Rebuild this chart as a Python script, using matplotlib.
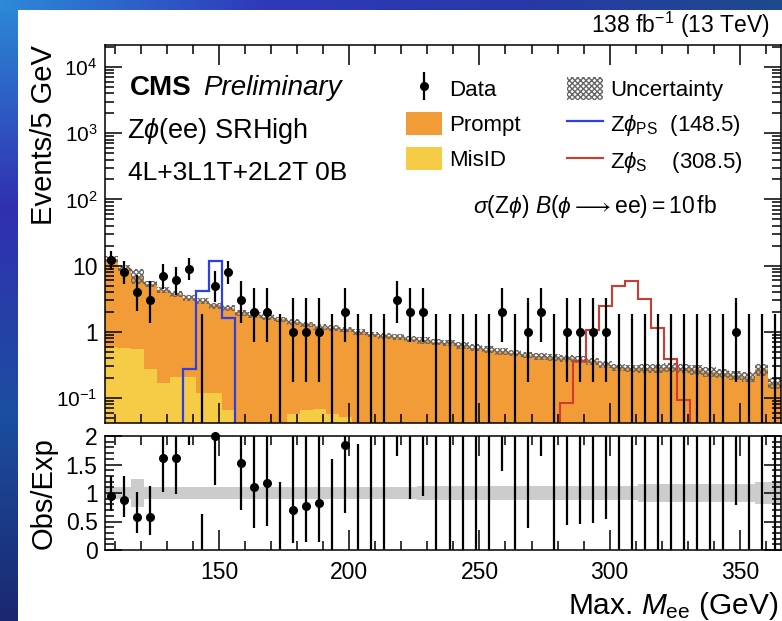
import numpy as np
import matplotlib
matplotlib.use("Agg")
import matplotlib.pyplot as plt
from matplotlib.colors import LinearSegmentedColormap
from matplotlib.legend_handler import HandlerErrorbar
from matplotlib.lines import Line2D
from matplotlib.patches import Patch
from matplotlib.ticker import LogLocator, MultipleLocator, NullFormatter, FuncFormatter

plt.rcParams["font.family"] = ["Liberation Sans", "DejaVu Sans"]
plt.rcParams["mathtext.fontset"] = "custom"
plt.rcParams["mathtext.rm"] = "Liberation Sans"
plt.rcParams["mathtext.it"] = "Liberation Sans:italic"
plt.rcParams["mathtext.bf"] = "Liberation Sans:bold"
plt.rcParams["hatch.linewidth"] = 1.0

W, H = 782, 621

# 5 GeV bins in max. M_ee, 106 -> 366 GeV
edges = np.arange(106, 371, 5)
centers = 0.5 * (edges[:-1] + edges[1:])

data_obs = [12, 8, 4, 3, 7, 6, 9, 0, 5, 8,
            3, 2, 2, 0, 1, 1, 1, 0, 2, 0,
            0, 0, 3, 2, 2, 0, 0, 0, 0, 0,
            2, 0, 1, 2, 0, 1, 1, 1, 1, 0,
            0, 0, 0, 0, 0, 0, 0, 0, 1, 0,
            0, 0]

# total expected background (Prompt + MisID)
bkg_total = [12.7, 9.15, 7.0, 5.26, 4.32, 3.7, 3.3, 2.9, 2.5, 2.3,
             1.96, 1.82, 1.7, 1.55, 1.43, 1.30, 1.20, 1.15, 1.09, 0.99,
             0.92, 0.86, 0.83, 0.79, 0.75, 0.71, 0.68, 0.63, 0.58, 0.54,
             0.51, 0.48, 0.45, 0.43, 0.41, 0.40, 0.38, 0.36, 0.32, 0.29,
             0.28, 0.28, 0.28, 0.29, 0.28, 0.27, 0.25, 0.24, 0.22, 0.21,
             0.27, 0.17]

bkg_misid = [0.59, 0.57, 0.55, 0.27, 0.17, 0.21, 0.21, 0.12, 0.12, 0.066,
             0.035, 0.03, 0.03, 0.035, 0.058, 0.065, 0.068, 0.058, 0.051, 0.03,
             0.02, 0.02, 0.02, 0.02, 0.02, 0.02, 0.02, 0.02, 0.02, 0.02,
             0.02, 0.02, 0.02, 0.02, 0.02, 0.02, 0.02, 0.02, 0.02, 0.02,
             0.02, 0.02, 0.02, 0.02, 0.02, 0.02, 0.02, 0.02, 0.02, 0.02,
             0.02, 0.02]

# relative uncertainty on the total background
bkg_rel_unc = [0.10, 0.10, 0.25, 0.10, 0.10, 0.10, 0.10, 0.10, 0.10, 0.10,
               0.10, 0.10, 0.10, 0.10, 0.10, 0.10, 0.10, 0.10, 0.10, 0.10,
               0.10, 0.10, 0.10, 0.10, 0.115, 0.115, 0.115, 0.115, 0.115, 0.115,
               0.115, 0.115, 0.115, 0.115, 0.115, 0.12, 0.12, 0.12, 0.12, 0.12,
               0.12, 0.16, 0.16, 0.16, 0.16, 0.16, 0.16, 0.16, 0.16, 0.16,
               0.20, 0.20]

sig_ps_148 = [0, 0, 0, 0, 0, 0, 0.27, 4.2, 11.8, 1.63] + [0] * 42
sig_s_308 = [0] * 35 + [0.085, 0.36, 1.06, 2.45, 5.0, 5.9, 3.1, 1.16, 0.39, 0.095] + [0] * 7

# 68% Garwood intervals for small counts, indexed by n
poisson_lo = [0, 0.827, 1.292, 1.633, 1.914, 2.159, 2.380, 2.581, 2.768, 2.943, 3.108, 3.265, 3.415]
poisson_hi = [1.841, 2.299, 2.638, 2.918, 3.162, 3.382, 3.583, 3.770, 3.945, 4.110, 4.266, 4.415, 4.559]

main_yticks = [0.1, 1, 10, 1e2, 1e3, 1e4]
ratio_yticks = [0, 0.5, 1, 1.5, 2]

COLORS = {
    "prompt": "#F29C38",
    "misid": "#F6CB45",
    "unc": "#666666",
    "ratio_band": "#CCCCCC",
    "ps": "#2F3FE6",
    "s": "#D03A30",
}


def px_box(x0, y0, x1, y1):
    return [x0 / W, 1 - y1 / H, (x1 - x0) / W, (y1 - y0) / H]


def px_pt(x, y):
    return x / W, 1 - y / H


def decade_label(v):
    if v == 1:
        return "1"
    if v == 10:
        return "10"
    return r"$\mathregular{10^{%d}}$" % round(np.log10(v))


fig = plt.figure(figsize=(W / 100, H / 100), dpi=100)

# slide background strips
grad = np.linspace(0, 1, 256)[:, None]
left_cmap = LinearSegmentedColormap.from_list("left", ["#2C8AD8", "#3030B0", "#1C4EA0", "#1A2870"])
top_cmap = LinearSegmentedColormap.from_list("top", ["#2C8AD8", "#2F3ABA", "#2838A8", "#1E4A8C"])
bg_left = fig.add_axes(px_box(0, 0, 18, H))
bg_left.imshow(grad, cmap=left_cmap, aspect="auto")
bg_left.axis("off")
bg_top = fig.add_axes(px_box(0, 0, W, 10))
bg_top.imshow(grad.T, cmap=top_cmap, aspect="auto")
bg_top.axis("off")

ax = fig.add_axes(px_box(104.5, 45, 781.5, 423))
rax = fig.add_axes(px_box(104.5, 436, 781.5, 550), sharex=ax)

obs = np.array(data_obs, dtype=float)
total = np.array(bkg_total)
misid = np.array(bkg_misid)
rel = np.array(bkg_rel_unc)
err_lo = np.array([poisson_lo[int(n)] for n in obs])
err_hi = np.array([poisson_hi[int(n)] for n in obs])
floor = 1e-3

# stacked backgrounds
ax.stairs(misid, edges, baseline=floor, fill=True, color=COLORS["misid"], lw=0)
ax.stairs(total, edges, baseline=misid, fill=True, color=COLORS["prompt"], lw=0)
ax.stairs(total * (1 + rel), edges, baseline=total * (1 - rel), fill=True,
          facecolor="none", edgecolor=COLORS["unc"], hatch="xxxxxx", lw=0)

# signal hypotheses
ax.stairs(np.clip(sig_ps_148, floor, None), edges, baseline=floor, color=COLORS["ps"], lw=1.6)
ax.stairs(np.clip(sig_s_308, floor, None), edges, baseline=floor, color=COLORS["s"], lw=1.5)

# data
nz = obs > 0
data_eb = ax.errorbar(centers[nz], obs[nz], yerr=[err_lo[nz], err_hi[nz]], fmt="o",
                      color="black", ms=5.5, elinewidth=1.6, capsize=0, zorder=5)
ax.vlines(centers[~nz], floor, err_hi[~nz], color="black", lw=1.6, zorder=5)

ax.set_xlim(edges[0], edges[-1])
ax.set_yscale("log")
ax.set_ylim(0.042, 2.15e4)
ax.yaxis.set_minor_locator(LogLocator(base=10, subs=np.arange(2, 10), numticks=20))
ax.yaxis.set_minor_formatter(NullFormatter())
ax.set_yticks(main_yticks, [decade_label(v) for v in main_yticks])

# ratio panel
ratio = obs / total
r_lo = (obs - err_lo) / total
r_hi = (obs + err_hi) / total
rax.stairs(1 + rel, edges, baseline=1 - rel, fill=True, color=COLORS["ratio_band"], lw=0)
rax.vlines(centers, r_lo, r_hi, color="black", lw=1.6, zorder=5)
shown = nz & (ratio <= 2.01)
rax.plot(centers[shown], ratio[shown], "o", color="black", ms=5.5, clip_on=False, zorder=6)
rax.set_ylim(0, 2)
rax.set_yticks(ratio_yticks)
rax.yaxis.set_minor_locator(MultipleLocator(0.1))
rax.yaxis.set_major_formatter(FuncFormatter(lambda v, p: f"{v:g}"))

for a in (ax, rax):
    a.xaxis.set_major_locator(MultipleLocator(50))
    a.xaxis.set_minor_locator(MultipleLocator(10))
    a.tick_params(which="both", direction="in", top=True, right=True, width=1.1,
                  labelsize=16.5, pad=5)
    a.tick_params(axis="x", which="major", length=14.5, pad=8)
    a.tick_params(axis="x", which="minor", length=6.5)
    a.tick_params(axis="y", which="major", length=12.5)
    a.tick_params(axis="y", which="minor", length=6.5)
    for s in a.spines.values():
        s.set_linewidth(1.1)
ax.tick_params(labelbottom=False)
for t, v in zip(ax.get_yticklabels(), main_yticks):
    if v not in (1, 10):
        t.set_fontsize(15)

ax.set_ylabel("Events/5 GeV", fontsize=21, loc="top", va="baseline")
ax.yaxis.set_label_coords(-0.0775, 1.0)
rax.set_ylabel("Obs/Exp", fontsize=21, va="baseline")
rax.yaxis.set_label_coords(-0.0775, 0.5)
rax.set_xlabel(r"Max. $M_{\mathrm{ee}}$ (GeV)", fontsize=21.5, loc="right", va="baseline")
rax.xaxis.set_label_coords(0.995, -0.56)

# legend
handles = [
    data_eb,
    Patch(facecolor=COLORS["prompt"], edgecolor="none"),
    Patch(facecolor=COLORS["misid"], edgecolor="none"),
    Patch(facecolor="none", edgecolor=COLORS["unc"], hatch="xxxxxx", lw=0),
    Line2D([], [], color=COLORS["ps"], lw=1.6),
    Line2D([], [], color=COLORS["s"], lw=1.5),
]
labels = ["Data", "Prompt", "MisID", "Uncertainty",
          r"Z$\phi_{\mathrm{PS}}$  (148.5)", r"Z$\phi_{\mathrm{S}}$    (308.5)"]
ax.legend(handles, labels, ncol=2, loc="upper left", bbox_to_anchor=(0.4453, 0.9153),
          frameon=False, fontsize=16, borderpad=0, borderaxespad=0,
          handlelength=1.62, handleheight=1.2, handletextpad=0.32,
          labelspacing=0.5, columnspacing=2.1,
          handler_map={type(data_eb): HandlerErrorbar(yerr_size=0.63)})

# annotations
fig.text(*px_pt(130, 95), "CMS", fontsize=20, fontweight="bold", va="baseline")
fig.text(*px_pt(203, 95), "Preliminary", fontsize=20, style="italic", va="baseline")
fig.text(*px_pt(127, 138), r"Z$\phi$(ee) SRHigh", fontsize=19.5, va="baseline")
fig.text(*px_pt(128, 180), "4L+3L1T+2L2T 0B", fontsize=19, va="baseline")
fig.text(*px_pt(770, 33), r"138 fb$^{-1}$ (13 TeV)", fontsize=16.5, ha="right", va="baseline")
fig.text(*px_pt(473, 213), r"$\sigma(\mathrm{Z}\phi)\ B(\phi \longrightarrow \mathrm{ee}) = 10\,\mathrm{fb}$",
         fontsize=16.5, va="baseline")

fig.savefig("out.png", dpi=100, facecolor="white")
